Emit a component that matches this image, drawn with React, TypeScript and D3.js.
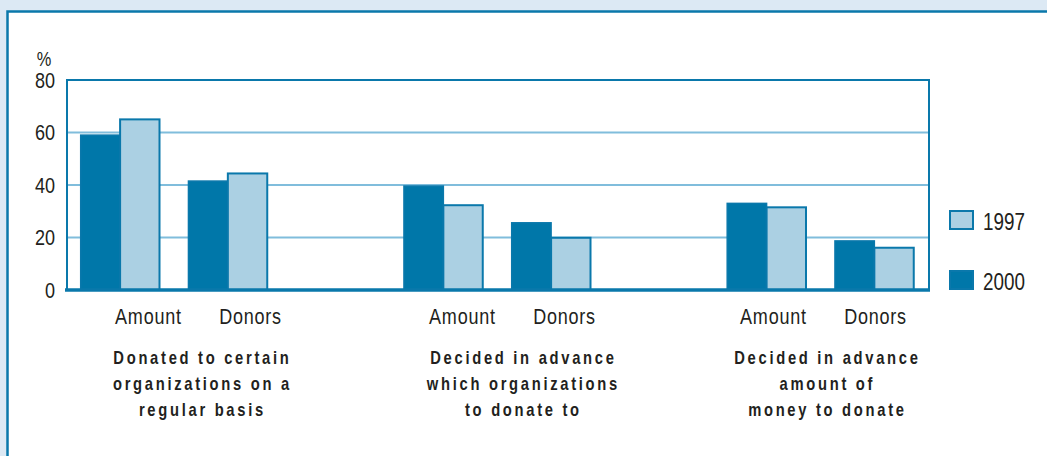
import React, { useEffect, useRef } from 'react';
import * as d3 from 'd3';

// data (%)
const groupTitles = [
  ['Donated to certain', 'organizations on a', 'regular basis'],
  ['Decided in advance', 'which organizations', 'to donate to'],
  ['Decided in advance', 'amount of', 'money to donate'],
];
const measures = ['Amount', 'Donors'];
const series = ['2000', '1997'];
const values2000 = [59, 41.5, 39.6, 25.6, 33, 18.7];
const values1997 = [65, 44.4, 32.3, 19.9, 31.5, 16.1];
const yTicks = [0, 20, 40, 60, 80];
const legendItems = ['1997', '2000'];

const DARK = '#0077a9';
const LIGHT = '#abd0e3';
const LINE = '#0a78ab';
const GRID = '#80bddc';
const TEXT = '#231f20';
const FONT = '"Liberation Sans", Arial, sans-serif';
const SQUEEZE = 0.82; // condensed look: no narrow face installed

const App = () => {
  const svgRef = useRef<SVGSVGElement>(null);

  useEffect(() => {
    const width = 1047;
    const height = 456;
    const plot = { left: 67, right: 929, top: 80, bottom: 290 };

    const svg = d3.select(svgRef.current);
    svg.selectAll('*').remove();
    svg.attr('width', width).attr('height', height);

    // background + white panel
    svg.append('rect').attr('width', width).attr('height', height).attr('fill', '#dce9f4');
    svg.append('rect')
      .attr('x', 7.5).attr('y', 11.5)
      .attr('width', 1100).attr('height', 500)
      .attr('fill', '#fff').attr('stroke', LINE).attr('stroke-width', 2.5);

    const y = d3.scaleLinear().domain([0, 80]).range([plot.bottom, plot.top]);

    // 8 slots: bar pairs, with an empty slot between groups
    const slot = d3.scaleBand<number>().domain(d3.range(8)).range([plot.left, plot.right]);
    const inner = d3.scaleBand<string>().domain(series).range([13.7, 92.5]);
    const slotOf = (i: number) => Math.floor(i / 2) * 3 + (i % 2);

    // labels / titles follow their own spacing
    const labelX = d3.scaleLinear().domain([0, 1, 2]).range([199, 513, 824]);
    const titleX = d3.scaleLinear().domain([0, 1, 2]).range([201, 522, 826]);

    const squeezed = (x: number, yy: number) => `translate(${x},${yy}) scale(${SQUEEZE},1)`;

    // gridlines
    svg.append('g')
      .selectAll('line')
      .data(yTicks.filter(t => t > 0 && t < 80))
      .enter().append('line')
      .attr('x1', plot.left).attr('x2', plot.right)
      .attr('y1', d => y(d)).attr('y2', d => y(d))
      .attr('stroke', GRID).attr('stroke-width', 2);

    // bars
    const rows = values2000.map((v, i) => ({ i, v2000: v, v1997: values1997[i] }));
    const pair = svg.append('g').selectAll('g')
      .data(rows)
      .enter().append('g')
      .attr('transform', d => `translate(${slot(slotOf(d.i))},0)`);

    pair.append('rect')
      .attr('x', inner('2000')!)
      .attr('y', d => y(d.v2000))
      .attr('width', inner.bandwidth())
      .attr('height', d => y(0) - y(d.v2000))
      .attr('fill', DARK).attr('stroke', LINE).attr('stroke-width', 1.5);

    pair.append('rect')
      .attr('x', inner('1997')!)
      .attr('y', d => y(d.v1997))
      .attr('width', inner.bandwidth())
      .attr('height', d => y(0) - y(d.v1997))
      .attr('fill', LIGHT).attr('stroke', LINE).attr('stroke-width', 2);

    // frame
    svg.append('path')
      .attr('d', `M${plot.left},${plot.bottom}V${plot.top}H${plot.right}V${plot.bottom}`)
      .attr('fill', 'none').attr('stroke', LINE).attr('stroke-width', 2);
    svg.append('line')
      .attr('x1', plot.left - 2).attr('x2', plot.right + 1)
      .attr('y1', y(0)).attr('y2', y(0))
      .attr('stroke', LINE).attr('stroke-width', 3.5);

    // y tick labels
    svg.append('g')
      .selectAll('text')
      .data(yTicks)
      .enter().append('text')
      .attr('transform', d => squeezed(55, y(d)))
      .attr('dy', '0.36em')
      .attr('text-anchor', 'end')
      .attr('font-family', FONT).attr('font-size', 22).attr('fill', TEXT)
      .text(d => d);
    svg.append('text')
      .attr('transform', squeezed(44, 66))
      .attr('text-anchor', 'middle')
      .attr('font-family', FONT).attr('font-size', 20).attr('fill', TEXT)
      .text('%');

    // measure labels
    svg.append('g')
      .selectAll('text')
      .data(rows)
      .enter().append('text')
      .attr('transform', d => squeezed(labelX(Math.floor(d.i / 2)) + (d.i % 2 === 0 ? -51 : 51) + 0.4, 324))
      .attr('text-anchor', 'middle')
      .attr('font-family', FONT).attr('font-size', 22)
      .attr('letter-spacing', 0.9).attr('fill', TEXT)
      .text(d => measures[d.i % 2]);

    // group titles
    const title = svg.append('g')
      .selectAll('text')
      .data(groupTitles)
      .enter().append('text')
      .attr('transform', (d, gi) => squeezed(titleX(gi) + 1.4, 0))
      .attr('text-anchor', 'middle')
      .attr('font-family', FONT).attr('font-size', 18).attr('font-weight', 'bold')
      .attr('letter-spacing', 3.3).attr('fill', TEXT);
    title.selectAll('tspan')
      .data(d => d)
      .enter().append('tspan')
      .attr('x', 0)
      .attr('y', (d, k) => 364 + k * 26)
      .text(d => d);

    // legend
    const legend = svg.append('g')
      .selectAll('g')
      .data(legendItems)
      .enter().append('g')
      .attr('transform', (d, k) => `translate(949,${210 + k * 60})`);
    legend.append('rect')
      .attr('x', 1).attr('y', 1)
      .attr('width', 23).attr('height', 18)
      .attr('fill', d => (d === '1997' ? LIGHT : DARK))
      .attr('stroke', LINE).attr('stroke-width', 2);
    legend.append('text')
      .attr('transform', squeezed(34, 20))
      .attr('font-family', FONT).attr('font-size', 23).attr('fill', TEXT)
      .text(d => d);
  }, []);

  return (
    <div style={{ position: 'absolute', left: 0, top: 0 }}>
      <svg ref={svgRef} style={{ display: 'block' }}></svg>
    </div>
  );
};

export default App;
